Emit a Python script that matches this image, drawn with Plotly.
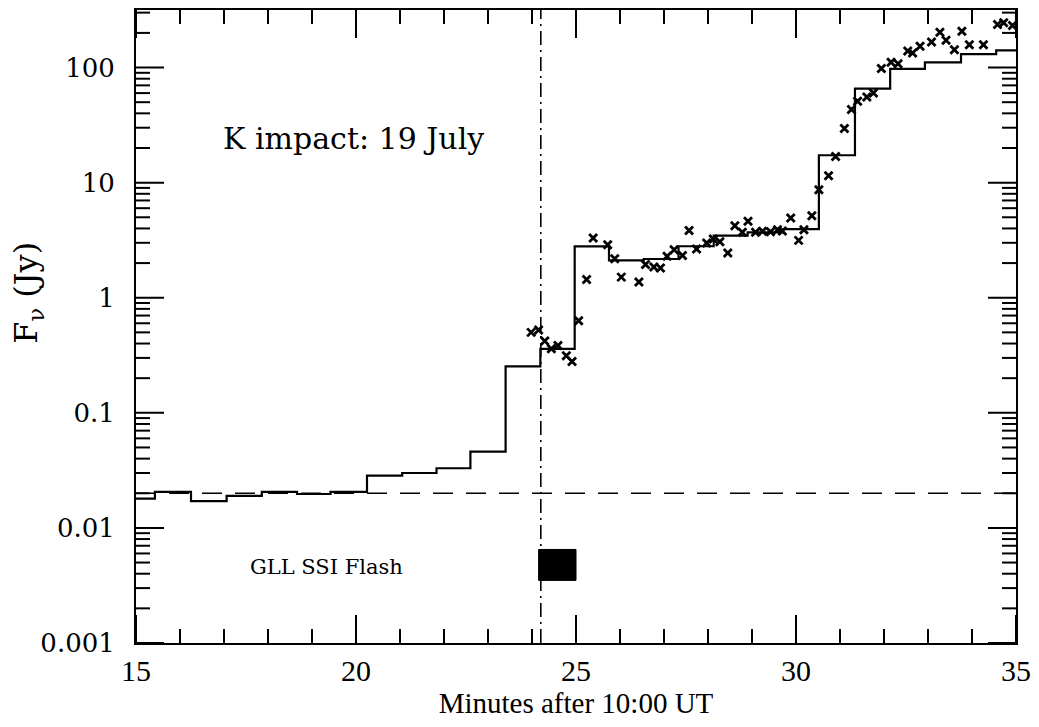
import numpy as np
import plotly.graph_objects as go

# ---- data ----
bin_edges = [15.0, 15.43, 16.25, 17.06, 17.86, 18.66, 19.42, 20.25, 21.05, 21.83,
             22.60, 23.40, 24.19, 24.97, 25.75, 26.54, 27.33, 28.13, 28.90, 29.71,
             30.52, 31.34, 32.14, 32.93, 33.75, 34.55, 35.0]
bin_flux = [0.018, 0.0206, 0.0171, 0.019, 0.0206, 0.0197, 0.0206, 0.0285, 0.030, 0.033,
            0.046, 0.253, 0.36, 2.79, 2.11, 2.17, 2.8, 3.46, 3.70, 3.95,
            17.3, 65.6, 97.3, 111, 131, 141]

obs_time = [23.98, 24.15, 24.29, 24.44, 24.59, 24.78, 24.91, 25.06, 25.24, 25.39,
            25.72, 25.88, 26.03, 26.43, 26.58, 26.77, 26.92, 27.07, 27.23, 27.42,
            27.57, 27.74, 27.97, 28.12, 28.27, 28.45, 28.61, 28.78, 28.91, 29.08,
            29.24, 29.42, 29.58, 29.69, 29.88, 30.06, 30.18, 30.36, 30.52, 30.74,
            30.90, 31.10, 31.26, 31.40, 31.61, 31.76, 31.94, 32.16, 32.32, 32.54,
            32.65, 32.82, 33.08, 33.27, 33.41, 33.60, 33.77, 33.94, 34.26, 34.58,
            34.72, 34.92]
obs_flux = [0.50, 0.525, 0.42, 0.36, 0.385, 0.313, 0.279, 0.63, 1.44, 3.30,
            2.89, 2.18, 1.51, 1.37, 1.94, 1.85, 1.81, 2.29, 2.61, 2.33,
            3.83, 2.65, 2.99, 3.24, 3.07, 2.45, 4.22, 3.70, 4.61, 3.70,
            3.78, 3.75, 3.90, 3.80, 4.93, 3.15, 3.90, 5.16, 8.69, 11.5,
            16.9, 29.5, 43.1, 51, 55.6, 60.2, 98, 111, 108, 139,
            134, 153, 167, 203, 173, 143, 207, 158, 158, 237,
            245, 232]

baseline_time = [15.0, 35.0]
baseline_flux = [0.02, 0.02]
impact_time = 24.2
flash_time = [24.15, 25.0]
flash_flux = [0.0035, 0.0065]

x_ticks = [15, 20, 25, 30, 35]
x_minor_ticks = [16, 17, 18, 19, 21, 22, 23, 24, 26, 27, 28, 29, 31, 32, 33, 34]
y_ticks = [0.001, 0.01, 0.1, 1, 10, 100]
y_tick_text = ["0.001", "0.01", "0.1", "1", "10", "100"]
y_minor_ticks = [m * 10.0 ** e for e in range(-3, 3) for m in range(2, 10)]

X_RANGE = [15, 35]
Y_RANGE = [-3, 2.5]

# ---- figure ----
fig = go.Figure()

fig.add_trace(go.Scatter(
    x=baseline_time, y=baseline_flux, mode="lines",
    line=dict(color="black", width=1.6, dash="20px,13px"),
    showlegend=False, hoverinfo="skip"))

step_x = bin_edges
step_y = bin_flux + [bin_flux[-1]]
fig.add_trace(go.Scatter(
    x=step_x, y=step_y, mode="lines", line_shape="hv",
    line=dict(color="black", width=2.2), showlegend=False))

fig.add_trace(go.Scatter(
    x=obs_time, y=obs_flux, mode="markers",
    marker=dict(symbol="x-thin", size=8, line=dict(color="black", width=2.8)),
    showlegend=False))

fx = [flash_time[0], flash_time[1], flash_time[1], flash_time[0], flash_time[0]]
fy = [flash_flux[0], flash_flux[0], flash_flux[1], flash_flux[1], flash_flux[0]]
fig.add_trace(go.Scatter(
    x=fx, y=fy, mode="lines", fill="toself", fillcolor="black",
    line=dict(color="black", width=1), showlegend=False))

fig.add_shape(type="line", xref="x", yref="paper", x0=impact_time, x1=impact_time,
              y0=0, y1=1, line=dict(color="black", width=1.6, dash="14px,5px,2px,5px"))

# inside tick marks on all four sides: line markers centred on the frame,
# the outer half is clipped away by the plot area
y_lo, y_hi = 10.0 ** Y_RANGE[0], 10.0 ** Y_RANGE[1]
for vals, size in [(x_ticks, 40), (x_minor_ticks, 20)]:
    fig.add_trace(go.Scatter(
        x=vals + vals, y=[y_lo] * len(vals) + [y_hi] * len(vals), mode="markers",
        cliponaxis=True, showlegend=False, hoverinfo="skip",
        marker=dict(symbol="line-ns", size=size, color="black",
                    line=dict(color="black", width=2))))
for vals, size in [(y_ticks, 40), (y_minor_ticks, 20)]:
    fig.add_trace(go.Scatter(
        x=[X_RANGE[0]] * len(vals) + [X_RANGE[1]] * len(vals), y=vals + vals,
        mode="markers", cliponaxis=True, showlegend=False, hoverinfo="skip",
        marker=dict(symbol="line-ew", size=size, color="black",
                    line=dict(color="black", width=2))))

fig.add_annotation(x=16.93, y=np.log10(24.0), xref="x", yref="y", xanchor="left",
                   text="K impact: 19 July", showarrow=False,
                   font=dict(family="DejaVu Serif", size=30, color="black"))
fig.add_annotation(x=19.32, y=np.log10(0.0046), xref="x", yref="y", xanchor="center",
                   text="GLL SSI Flash", showarrow=False,
                   font=dict(family="DejaVu Serif", size=21, color="black"))
fig.add_annotation(x=-0.123, y=0.553, xref="paper", yref="paper", xanchor="center",
                   yanchor="middle", textangle=-90, text="F<sub>ν</sub> (Jy)",
                   showarrow=False, font=dict(family="DejaVu Serif", size=32, color="black"))

fig.update_layout(
    template="none",
    xaxis=dict(range=X_RANGE, tickmode="array", tickvals=x_ticks, ticks="",
               showline=True, linecolor="black", linewidth=2, mirror=True,
               showgrid=False, zeroline=False,
               tickfont=dict(family="Liberation Serif", size=30, color="black"),
               title=dict(text="Minutes after 10:00 UT",
                          font=dict(family="Liberation Serif", size=29, color="black"),
                          standoff=3)),
    yaxis=dict(type="log", range=Y_RANGE, tickmode="array", tickvals=y_ticks,
               ticktext=y_tick_text, ticks="", ticklabelstandoff=14,
               showline=True, linecolor="black", linewidth=2, mirror=True,
               showgrid=False, zeroline=False,
               tickfont=dict(family="DejaVu Serif", size=26, color="black")),
    width=1039, height=727, plot_bgcolor="white", paper_bgcolor="white",
    margin=dict(l=136, r=23, t=10, b=84, autoexpand=False))

fig.write_html("out.html")
